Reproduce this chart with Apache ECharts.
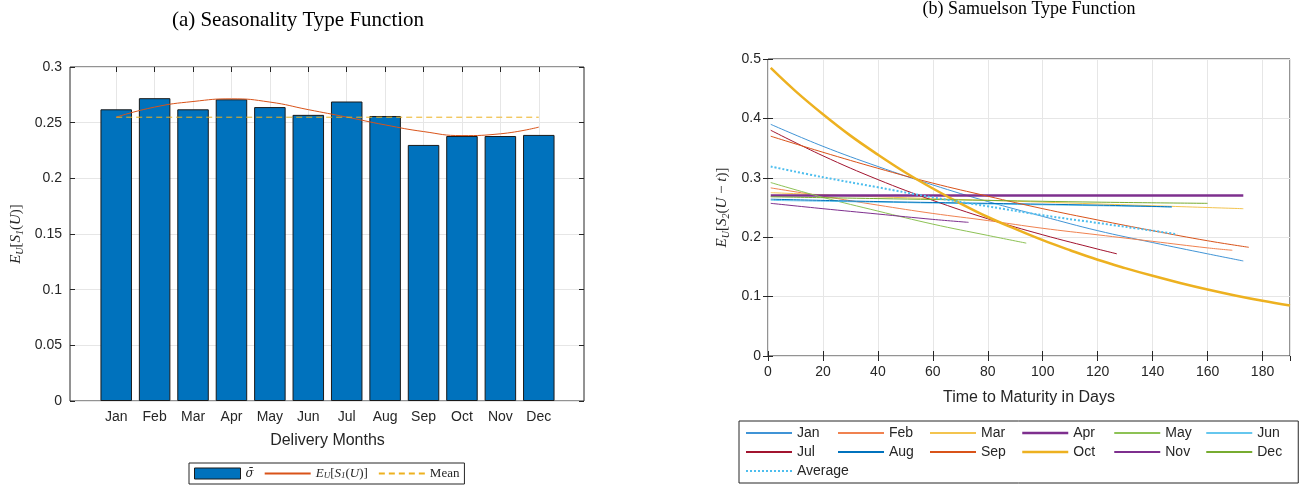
<!DOCTYPE html>
<html>
<head>
<meta charset="utf-8">
<script src="https://cdn.jsdelivr.net/npm/echarts@6/dist/echarts.min.js"></script>
<style>
html, body { margin: 0; padding: 0; background: #fff; }
#main { width: 1304px; height: 485px; }
</style>
</head>
<body>
<div id="main"></div>
<script>
// (a) seasonality
var months = ['Jan', 'Feb', 'Mar', 'Apr', 'May', 'Jun', 'Jul', 'Aug', 'Sep', 'Oct', 'Nov', 'Dec'];
var sigmaBar = [0.262, 0.272, 0.262, 0.271, 0.264, 0.257, 0.269, 0.256, 0.230, 0.238, 0.238, 0.239];
var seasonCurve = [0.255, 0.264, 0.269, 0.2714, 0.2685, 0.2617, 0.255, 0.248, 0.242, 0.2384, 0.240, 0.246];
var meanLine = [0.2549, 0.2549, 0.2549, 0.2549, 0.2549, 0.2549, 0.2549, 0.2549, 0.2549, 0.2549, 0.2549, 0.2549];

// (b) samuelson, [day, value]
var janCurve = [[1, 0.390], [20, 0.353], [40, 0.319], [60, 0.288], [80, 0.260], [100, 0.235], [120, 0.211], [140, 0.191], [160, 0.172], [173, 0.160]];
var febCurve = [[1, 0.283], [20, 0.269], [40, 0.254], [60, 0.240], [80, 0.228], [100, 0.215], [120, 0.204], [140, 0.193], [160, 0.182], [169, 0.178]];
var marCurve = [[1, 0.275], [40, 0.268], [80, 0.262], [120, 0.256], [173, 0.248]];
var aprCurve = [[1, 0.270], [173, 0.270]];
var mayCurve = [[1, 0.292], [20, 0.267], [40, 0.244], [60, 0.222], [80, 0.203], [94, 0.190]];
var junCurve = [[1, 0.262], [40, 0.259], [80, 0.256], [120, 0.253], [147, 0.251]];
var julCurve = [[1, 0.380], [20, 0.337], [40, 0.297], [60, 0.262], [80, 0.231], [100, 0.204], [120, 0.180], [127, 0.172]];
var augCurve = [[1, 0.264], [40, 0.260], [80, 0.257], [120, 0.254], [147, 0.251]];
var sepCurve = [[1, 0.370], [20, 0.343], [40, 0.316], [60, 0.291], [80, 0.269], [100, 0.248], [120, 0.229], [140, 0.211], [160, 0.194], [175, 0.183]];
var octCurve = [[1, 0.485], [10, 0.446], [20, 0.407], [30, 0.371], [40, 0.339], [50, 0.309], [60, 0.282], [70, 0.257], [80, 0.234], [90, 0.214], [100, 0.195], [110, 0.178], [120, 0.162], [130, 0.148], [140, 0.135], [150, 0.123], [160, 0.112], [170, 0.102], [180, 0.093], [190, 0.085]];
var novCurve = [[1, 0.257], [20, 0.248], [40, 0.239], [60, 0.230], [73, 0.225]];
var decCurve = [[1, 0.268], [40, 0.265], [80, 0.262], [120, 0.259], [160, 0.257]];
var avgCurve = [[1, 0.319], [20, 0.301], [40, 0.284], [60, 0.267], [80, 0.252], [100, 0.237], [120, 0.224], [140, 0.211], [149, 0.205]];

var curveNames = ['Jan', 'Feb', 'Mar', 'Apr', 'May', 'Jun', 'Jul', 'Aug', 'Sep', 'Oct', 'Nov', 'Dec', 'Average'];
var curveData = [janCurve, febCurve, marCurve, aprCurve, mayCurve, junCurve, julCurve, augCurve, sepCurve, octCurve, novCurve, decCurve, avgCurve];
var curveColors = ['#4094D6', '#F08250', '#F3C44F', '#7E2F8E', '#8DC255', '#66C7EE', '#A2142F', '#0072BD', '#D95319', '#EDB120', '#7E2F8E', '#77AC30', '#4DBEEE'];
var curveWidths = [1, 1, 1, 2.5, 1, 1, 1, 1, 1, 2.5, 1, 1, 2];

var AX = '#262626';
var GRIDC = '#e6e6e6';
var SANS = '"Liberation Sans", Arial, sans-serif';
var SERIF = '"Liberation Serif", "DejaVu Serif", serif';

var mathRich = {
    i: { fontFamily: SERIF, fontStyle: 'italic', fontSize: 15, lineHeight: 18, color: AX },
    n: { fontFamily: SERIF, fontSize: 15, lineHeight: 18, color: AX },
    s: { fontFamily: SERIF, fontStyle: 'italic', fontSize: 10, lineHeight: 8, verticalAlign: 'bottom', color: AX }
};

function tickOnly(gridIndex, pos, type) {
    return {
        type: type, gridIndex: gridIndex, position: pos,
        axisLine: { show: false },
        axisTick: { show: true, inside: true, length: 5, lineStyle: { color: AX } },
        axisLabel: { show: false },
        splitLine: { show: false }
    };
}

var chart = echarts.init(document.getElementById('main'));

var series = [{
    name: 'sigma', type: 'bar', xAxisIndex: 1, yAxisIndex: 2,
    data: sigmaBar, barWidth: '82%',
    itemStyle: { color: '#0072BD', borderColor: '#1a1a1a', borderWidth: 1 }
}, {
    name: 'ES1', type: 'line', xAxisIndex: 1, yAxisIndex: 2,
    data: seasonCurve, smooth: true, symbol: 'none',
    lineStyle: { color: '#D95319', width: 1 }, itemStyle: { color: '#D95319' }, z: 4
}, {
    name: 'Mean', type: 'line', xAxisIndex: 1, yAxisIndex: 2,
    data: meanLine, symbol: 'none',
    lineStyle: { color: '#EDB120', width: 1, type: [6, 4] }, itemStyle: { color: '#EDB120' }, z: 4
}];

var curveLegend = [];
for (var k = 0; k < curveNames.length; k++) {
    series.push({
        name: curveNames[k], type: 'line', xAxisIndex: 3, yAxisIndex: 3,
        data: curveData[k], smooth: curveData[k].length > 2 ? 0.4 : false, symbol: 'none',
        lineStyle: { color: curveColors[k], width: curveWidths[k], type: k === 12 ? [2, 2] : 'solid' },
        itemStyle: { color: curveColors[k] }
    });
    // thick ones keep their width in the legend
    curveLegend.push(curveWidths[k] > 2 && k !== 12 ? { name: curveNames[k], lineStyle: { width: curveWidths[k] } } : curveNames[k]);
}

var option = {
    backgroundColor: '#fff',
    animation: false,
    graphic: [{
        type: 'text', x: 298, y: 20,
        style: { text: '(a) Seasonality Type Function', fontFamily: SERIF, fontSize: 21, fill: '#000', align: 'center', verticalAlign: 'middle' }
    }, {
        type: 'text', x: 1029, y: 9,
        style: { text: '(b) Samuelson Type Function', fontFamily: SERIF, fontSize: 18, fill: '#000', align: 'center', verticalAlign: 'middle' }
    }],
    grid: [
        { left: 70, top: 67, right: 720, bottom: 84, show: true, borderColor: AX, borderWidth: 1, outerBoundsMode: 'none' },
        { left: 97, top: 67, right: 746, bottom: 84, outerBoundsMode: 'none' },
        { left: 768, top: 59, right: 14, bottom: 129, show: true, borderColor: AX, borderWidth: 1, outerBoundsMode: 'none' }
    ],
    xAxis: [
        { type: 'value', gridIndex: 0, min: 0, max: 1, show: false },
        {
            type: 'category', gridIndex: 1, data: months, position: 'bottom',
            axisLine: { show: false },
            axisTick: { show: true, inside: true, length: 5, alignWithLabel: true, lineStyle: { color: AX } },
            axisLabel: { color: AX, fontFamily: SANS, fontSize: 14, margin: 9 },
            splitLine: { show: true, alignWithLabel: true, lineStyle: { color: GRIDC } },
            name: 'Delivery Months', nameLocation: 'middle', nameGap: 32,
            nameTextStyle: { color: AX, fontFamily: SANS, fontSize: 16 }
        },
        (function () { var a = tickOnly(1, 'top', 'category'); a.data = months; a.axisTick.alignWithLabel = true; return a; })(),
        {
            type: 'value', gridIndex: 2, min: 0, max: 190, interval: 20,
            axisLine: { show: false },
            axisTick: { show: true, inside: true, length: 5, lineStyle: { color: AX } },
            axisLabel: { color: AX, fontFamily: SANS, fontSize: 14, margin: 9, showMaxLabel: false },
            splitLine: { show: true, lineStyle: { color: GRIDC } },
            name: 'Time to Maturity in Days', nameLocation: 'middle', nameGap: 34,
            nameTextStyle: { color: AX, fontFamily: SANS, fontSize: 16 }
        },
        (function () { var a = tickOnly(2, 'top', 'value'); a.min = 0; a.max = 190; a.interval = 20; return a; })()
    ],
    yAxis: [
        {
            type: 'value', gridIndex: 0, min: 0, max: 0.3, interval: 0.05,
            axisLine: { show: false },
            axisTick: { show: true, inside: true, length: 5, lineStyle: { color: AX } },
            axisLabel: { color: AX, fontFamily: SANS, fontSize: 14, margin: 8 },
            splitLine: { show: true, lineStyle: { color: GRIDC } },
            name: '{i|E}{s|U}{n|[}{i|S}{s|1}{n|(}{i|U}{n|)]}', nameLocation: 'middle', nameGap: 45,
            nameTextStyle: { rich: mathRich }
        },
        (function () { var a = tickOnly(0, 'right', 'value'); a.min = 0; a.max = 0.3; a.interval = 0.05; return a; })(),
        { type: 'value', gridIndex: 1, min: 0, max: 0.3, show: false },
        {
            type: 'value', gridIndex: 2, min: 0, max: 0.5, interval: 0.1,
            axisLine: { show: false },
            axisTick: { show: true, inside: true, length: 5, lineStyle: { color: AX } },
            axisLabel: { color: AX, fontFamily: SANS, fontSize: 14, margin: 7 },
            splitLine: { show: true, lineStyle: { color: GRIDC } },
            name: '{i|E}{s|U}{n|[}{i|S}{s|2}{n|(}{i|U}{n| − }{i|t}{n|)]}', nameLocation: 'middle', nameGap: 37,
            nameTextStyle: { rich: mathRich }
        },
        (function () { var a = tickOnly(2, 'right', 'value'); a.min = 0; a.max = 0.5; a.interval = 0.1; return a; })()
    ],
    legend: [{
        data: [
            { name: 'sigma', icon: 'rect', itemStyle: { opacity: 1, borderWidth: 1, borderColor: '#1a1a1a' } },
            { name: 'ES1' }, { name: 'Mean' }
        ],
        orient: 'horizontal', left: 189, top: 463,
        padding: [4, 5], itemGap: 10, itemWidth: 46, itemHeight: 11,
        borderColor: AX, borderWidth: 1, backgroundColor: '#fff',
        selectedMode: false,
        itemStyle: { opacity: 0 },
        formatter: function (name) {
            if (name === 'sigma') return '{m|σ̄}';
            if (name === 'ES1') return '{i|E}{s|U}{n|[}{i|S}{s|1}{n|(}{i|U}{n|)]}';
            return '{n|Mean}';
        },
        textStyle: {
            rich: {
                m: { fontFamily: '"DejaVu Serif", serif', fontStyle: 'italic', fontSize: 12, lineHeight: 13, color: AX },
                i: { fontFamily: SERIF, fontStyle: 'italic', fontSize: 13, lineHeight: 13, color: AX },
                n: { fontFamily: SERIF, fontSize: 13, lineHeight: 13, color: AX },
                s: { fontFamily: SERIF, fontStyle: 'italic', fontSize: 9, lineHeight: 6, verticalAlign: 'bottom', color: AX }
            }
        }
    }, {
        data: curveLegend,
        orient: 'horizontal', left: 739, top: 421, width: 557,
        padding: [5, 6], itemGap: 5, itemWidth: 46, itemHeight: 14,
        borderColor: AX, borderWidth: 1, backgroundColor: '#fff',
        selectedMode: false,
        itemStyle: { opacity: 0 },
        formatter: '{n|{name}}',
        textStyle: {
            rich: { n: { width: 35, fontFamily: SANS, fontSize: 14, lineHeight: 14, color: AX } }
        }
    }],
    series: series
};

chart.setOption(option);
</script>
</body>
</html>
